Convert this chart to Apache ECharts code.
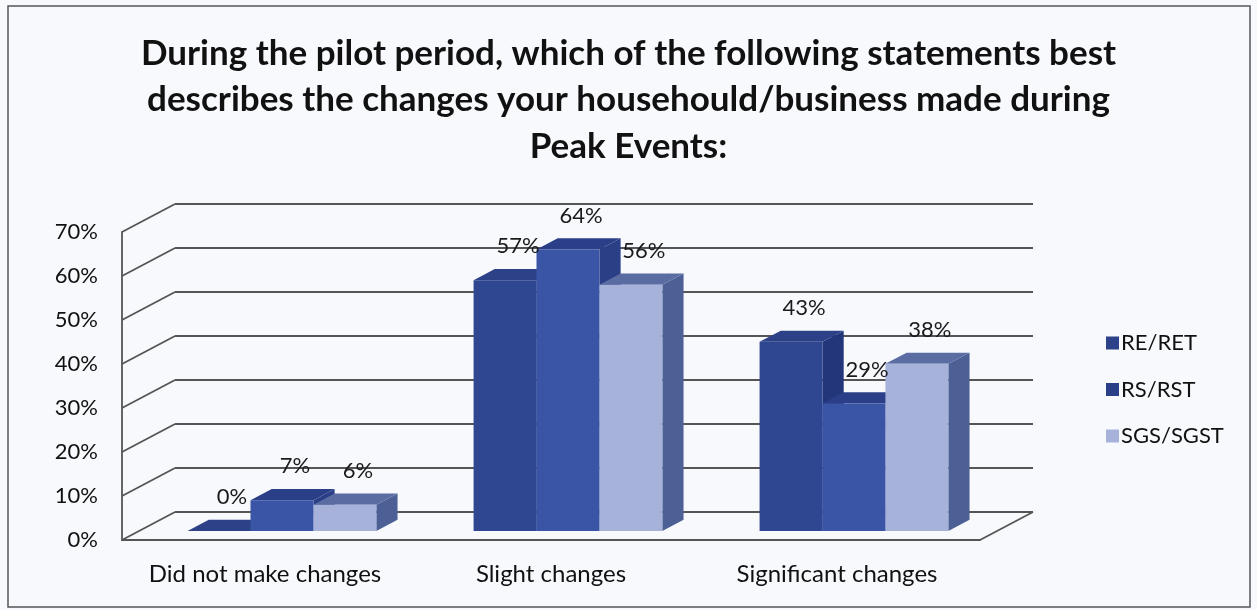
<!DOCTYPE html>
<html>
<head>
<meta charset="utf-8">
<script src="https://cdn.jsdelivr.net/npm/echarts@6/dist/echarts.min.js"></script>
<style>
  html, body { margin: 0; padding: 0; background: #f7f9fc; }
  #chart { width: 1257px; height: 610px; }
</style>
</head>
<body>
<div id="chart"></div>
<script>
// Survey answers by customer class (percent of respondents)
const categories = ['Did not make changes', 'Slight changes', 'Significant changes'];
const seriesNames = ['RE/RET', 'RS/RST', 'SGS/SGST'];
const reRet = [0, 57, 43];
const rsRst = [7, 64, 29];
const sgsSgst = [6, 56, 38];
const yTicks = [0, 10, 20, 30, 40, 50, 60, 70];

const FONT = 'Lato, "Open Sans", sans-serif';
const LINE = '#555';

// Depth of the floor (front edge to back wall) in pixels, and bar placement within it
const DEPTH = [53, -28];
const BAR_FRONT = 0.32;   // fraction of depth where bar front faces sit
const BAR_DEPTH = 0.40;   // fraction of depth a bar occupies
const BAR_W = 0.22;       // bar width as fraction of category width

// Face colours: [front, top, side]
const palettes = [
  ['#2f4690', '#2c4187', '#24367a'],
  ['#3a55a5', '#2b3f88', '#2a3f86'],
  ['#a6b2d9', '#5a6ca2', '#4d6096']
];

function barSeries(idx, values) {
  return {
    name: seriesNames[idx],
    type: 'custom',
    xAxisIndex: 0,
    yAxisIndex: 0,
    itemStyle: { color: palettes[idx][1] },
    data: values.map((v, i) => [i, v]),
    renderItem: function (params, api) {
      const cat = api.value(0);
      const v = api.value(1);
      const base = api.coord([cat, 0]);
      const top = api.coord([cat, v]);
      const catW = api.size([1, 0])[0];
      const w = catW * BAR_W;
      const ox = DEPTH[0] * BAR_FRONT, oy = DEPTH[1] * BAR_FRONT;
      const dx = DEPTH[0] * BAR_DEPTH, dy = DEPTH[1] * BAR_DEPTH;
      const x0 = base[0] + (idx - 1.5) * w + ox;
      const yB = base[1] + oy;
      const yT = top[1] + oy;
      const pal = palettes[idx];
      return {
        type: 'group',
        children: [
          {
            type: 'polygon',
            shape: { points: [[x0 + w, yT], [x0 + w + dx, yT + dy], [x0 + w + dx, yB + dy], [x0 + w, yB]] },
            style: { fill: pal[2] }
          },
          {
            type: 'polygon',
            shape: { points: [[x0, yT], [x0 + w, yT], [x0 + w + dx, yT + dy], [x0 + dx, yT + dy]] },
            style: { fill: pal[1] }
          },
          {
            type: 'rect',
            shape: { x: x0, y: yT, width: w, height: yB - yT },
            style: { fill: pal[0] }
          },
          {
            type: 'text',
            z2: 100,
            style: {
              text: v + '%',
              x: x0 + w / 2 + 13,
              y: yT - 34,
              align: 'center',
              verticalAlign: 'middle',
              fill: '#1a1a1a',
              font: '22px ' + FONT
            }
          }
        ]
      };
    }
  };
}

const chart = echarts.init(document.getElementById('chart'));

chart.setOption({
  backgroundColor: '#f7f9fc',
  animation: false,
  title: {
    text: 'During the pilot period, which of the following statements best\ndescribes the changes your househould/business made during\nPeak Events:',
    left: 'center',
    top: 25,
    textStyle: {
      fontFamily: FONT,
      fontSize: 35,
      fontWeight: 'bold',
      lineHeight: 46.5,
      color: '#111',
      align: 'center'
    }
  },
  legend: {
    orient: 'vertical',
    left: 1101,
    top: 327,
    itemWidth: 13,
    itemHeight: 13,
    itemGap: 24.5,
    icon: 'rect',
    textStyle: { fontFamily: FONT, fontSize: 22, color: '#111', padding: [0, 0, 0, -3] },
    data: seriesNames.map((n, i) => ({ name: n, itemStyle: { color: palettes[i][i === 2 ? 0 : 1] } }))
  },
  grid: [
    // front plane
    { left: 122, right: 277, top: 232, bottom: 70 },
    // back wall
    { left: 175, right: 224, top: 204, bottom: 98 }
  ],
  xAxis: [
    {
      type: 'category',
      gridIndex: 0,
      data: categories,
      axisLine: { lineStyle: { color: LINE, width: 1.8 } },
      axisTick: { show: false },
      axisLabel: { interval: 0, fontFamily: FONT, fontSize: 24, color: '#111', margin: 22 }
    },
    {
      type: 'category',
      gridIndex: 1,
      data: categories,
      show: false
    }
  ],
  yAxis: [
    {
      type: 'value',
      gridIndex: 0,
      min: 0,
      max: 70,
      interval: 10,
      axisLine: { show: true, lineStyle: { color: LINE, width: 1.8 } },
      axisTick: { show: false },
      splitLine: { show: false },
      axisLabel: {
        formatter: '{value}%',
        fontFamily: FONT,
        fontSize: 22,
        color: '#111',
        margin: 24
      }
    },
    {
      type: 'value',
      gridIndex: 1,
      min: 0,
      max: 70,
      interval: 10,
      axisLine: { show: false },
      axisTick: { show: false },
      axisLabel: { show: false },
      splitLine: { show: true, lineStyle: { color: LINE, width: 1.8 } }
    }
  ],
  series: [
    // side wall diagonals at each tick plus the floor's right edge
    {
      type: 'custom',
      xAxisIndex: 0,
      yAxisIndex: 0,
      silent: true,
      z: 1,
      data: yTicks.map(t => [0, t]),
      renderItem: function (params, api) {
        const cs = params.coordSys;
        const y = api.coord([0, api.value(1)])[1];
        const children = [{
          type: 'line',
          shape: { x1: cs.x, y1: y, x2: cs.x + DEPTH[0], y2: y + DEPTH[1] },
          style: { stroke: LINE, lineWidth: 1.8 }
        }];
        if (api.value(1) === 0) {
          const xr = cs.x + cs.width;
          children.push({
            type: 'line',
            shape: { x1: xr, y1: y, x2: xr + DEPTH[0], y2: y + DEPTH[1] },
            style: { stroke: LINE, lineWidth: 1.8 }
          });
        }
        return { type: 'group', children: children };
      }
    },
    barSeries(0, reRet),
    barSeries(1, rsRst),
    barSeries(2, sgsSgst)
  ],
  graphic: [
    {
      type: 'rect',
      shape: { x: 8, y: 6, width: 1242, height: 601 },
      style: { fill: null, stroke: '#555', lineWidth: 1.5 },
      silent: true
    }
  ]
});
</script>
</body>
</html>
